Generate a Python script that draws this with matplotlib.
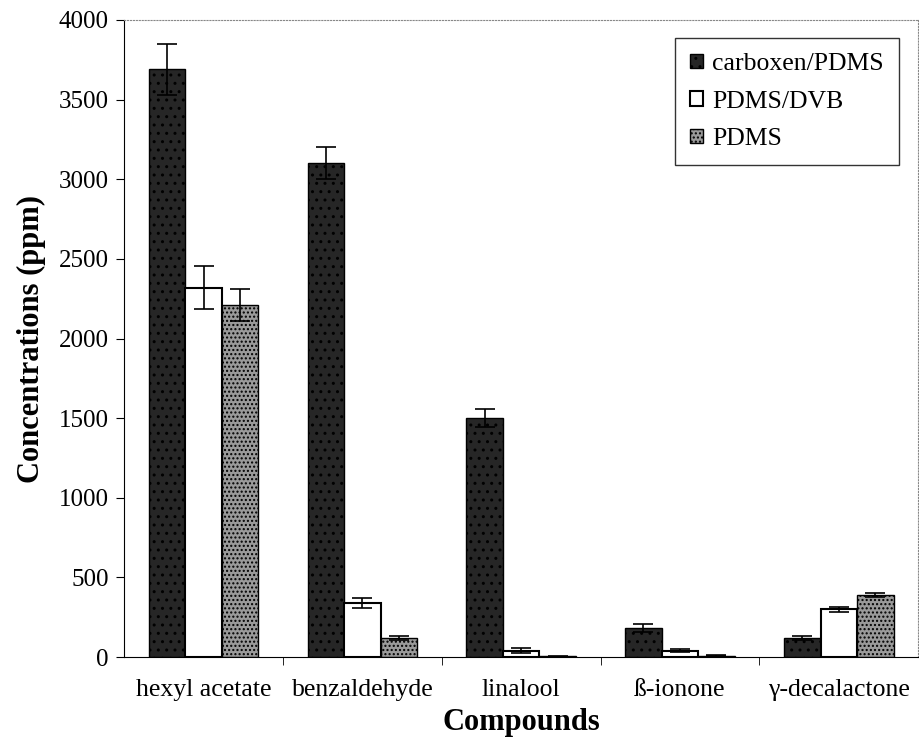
import numpy as np
import matplotlib.pyplot as plt

plt.rcParams['font.family'] = ['Liberation Serif', 'DejaVu Serif']

compounds = ["hexyl acetate", "benzaldehyde", "linalool", "ß-ionone", "γ-decalactone"]
fibers = ["carboxen/PDMS", "PDMS/DVB", "PDMS"]

carboxen = [3690, 3100, 1500, 180, 120]
carboxen_err = [160, 100, 55, 25, 12]
pdms_dvb = [2320, 340, 40, 40, 300]
pdms_dvb_err = [135, 30, 15, 8, 15]
pdms = [2210, 120, 5, 10, 390]
pdms_err = [100, 10, 2, 3, 15]

x = np.arange(len(compounds))
w = 0.23

fig = plt.figure(figsize=(9.2, 7.4), dpi=100)
ax = fig.add_axes([0.135, 0.112, 0.863, 0.861])

ekw = dict(ecolor='black', elinewidth=1.2, capsize=7, capthick=1.2)
ax.bar(x - w, carboxen, w, yerr=carboxen_err, color='#262626', edgecolor='black',
       hatch='..', linewidth=1, error_kw=ekw, label=fibers[0])
ax.bar(x, pdms_dvb, w, yerr=pdms_dvb_err, color='white', edgecolor='black',
       linewidth=1.5, error_kw=ekw, label=fibers[1])
ax.bar(x + w, pdms, w, yerr=pdms_err, color='#9a9a9a', edgecolor='black',
       hatch='....', linewidth=1, error_kw=ekw, label=fibers[2])

ax.set_xlim(-0.5, 4.5)
ax.set_ylim(0, 4000)
ax.set_yticks(np.arange(0, 4001, 500))
ax.set_xticks(x)
ax.set_xticklabels(compounds, fontsize=18.5)
ax.tick_params(axis='x', length=0, pad=16)
ax.set_xticks(np.arange(0.5, 4.5, 1), minor=True)
ax.tick_params(axis='x', which='minor', length=6, direction='out')
ax.tick_params(axis='y', labelsize=18, length=6, direction='out', pad=5)

ax.set_ylabel('Concentrations (ppm)', fontsize=22, fontweight='bold', labelpad=9)
ax.set_xlabel('Compounds', fontsize=22, fontweight='bold', labelpad=5)

for s in ('top', 'right'):
    ax.spines[s].set_linestyle(':')
    ax.spines[s].set_color('#888888')
    ax.spines[s].set_linewidth(0.8)

leg = ax.legend(loc='upper right', bbox_to_anchor=(0.976, 0.972), fontsize=18.5,
                frameon=True, fancybox=False, edgecolor='black',
                handlelength=0.5, handleheight=0.5, handletextpad=0.35,
                labelspacing=0.6, borderpad=0.6, borderaxespad=0)
leg.get_frame().set_linewidth(1)

fig.savefig('out.png', dpi=100)
